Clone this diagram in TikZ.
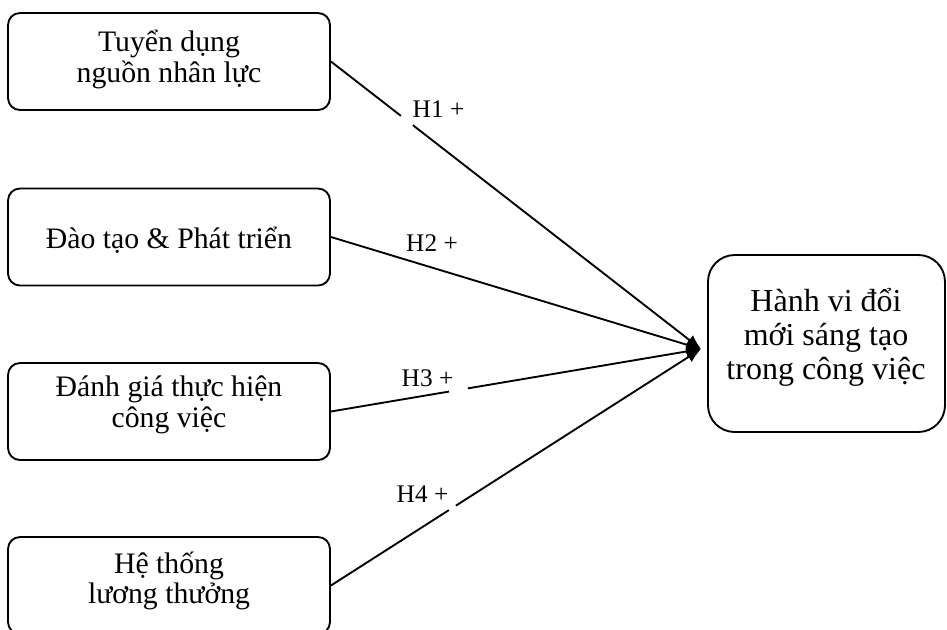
\documentclass[tikz,border=0pt]{standalone}
\usepackage{fontspec}
\setmainfont{Liberation Serif}
\usetikzlibrary{arrows.meta}
\begin{document}
\begin{tikzpicture}[x=0.75pt,y=-0.75pt,
  box/.style={draw, line width=1.4pt, rounded corners=9pt, minimum width=241.5pt, minimum height=72.75pt, inner sep=0pt},
  bigbox/.style={draw, line width=1.4pt, rounded corners=20pt, minimum width=177.75pt, minimum height=132.75pt, inner sep=0pt},
  txt/.style={align=center, font=\fontsize{22.3}{22.8}\selectfont, inner sep=0pt},
  bigtxt/.style={align=center, font=\fontsize{24}{25.5}\selectfont, inner sep=0pt},
  hyp/.style={font=\fontsize{19}{20}\selectfont, inner sep=0pt, anchor=base},
  conn/.style={line width=1.4pt, -{Latex[length=11pt,width=9pt]}}]
\useasboundingbox (0,0) rectangle (947,629);
\clip (0,0) rectangle (947,629);
\node[box] (b1) at (169,61.5) {};
\node[box] (b2) at (169,237) {};
\node[box] (b3) at (169,411.5) {};
\node[box] (b4) at (169,585.5) {};
\node[bigbox] (out) at (826.5,343.5) {};
\node[txt] (t1) at (169,59.5) {Tuyển dụng\\nguồn nhân lực};
\node[txt, anchor=base] (t2) at (169,248) {Đào tạo \& Phát triển};
\node[txt] (t3) at (169,405) {Đánh giá thực hiện\\công việc};
\node[txt] (t4) at (169,581) {Hệ thống\\lương thưởng};
\node[bigtxt] (t5) at (826,337.5) {Hành vi đổi\\mới sáng tạo\\trong công việc};
\coordinate (tip) at (701,349);
\draw[conn, dash pattern=on 66.4pt off 11.4pt on 1000pt] (b1.east) -- (tip);
\draw[conn] (b2.east) -- (tip);
\draw[conn, dash pattern=on 89.8pt off 14.4pt on 1000pt] (b3.east) -- (tip);
\draw[conn, dash pattern=on 104.9pt off 6.3pt on 1000pt] (b4.east) -- (tip);
\node[hyp] (h1) at (438.5,117) {H1 +};
\node[hyp] (h2) at (432,251) {H2 +};
\node[hyp] (h3) at (427.5,386) {H3 +};
\node[hyp] (h4) at (422.5,502) {H4 +};
\end{tikzpicture}
\end{document}
